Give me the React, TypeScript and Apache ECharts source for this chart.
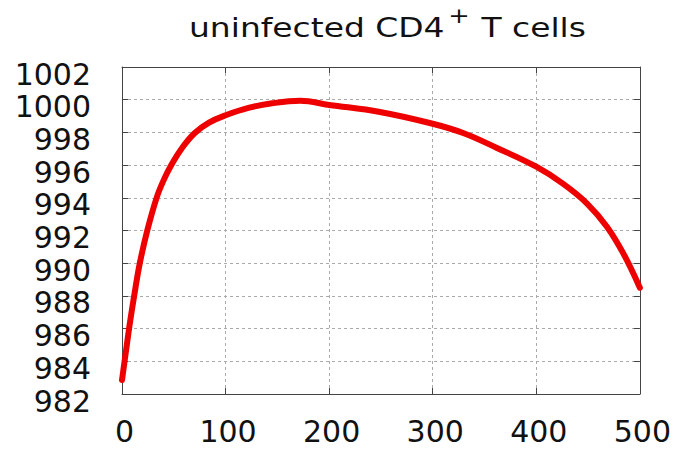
import React, { useEffect, useRef } from "react";
import * as echarts from "echarts";

const timePoints = [0, 4, 8, 12, 17.2, 24.4, 33.4, 40, 48, 58, 70, 84, 100, 122, 145, 172, 200, 249, 300, 330, 362, 400, 426, 449, 468, 484, 500];
const cellValues = [982.85, 984.7, 986.5, 988.1, 990, 992, 994, 995.05, 996.05, 997.05, 997.95, 998.6, 999.05, 999.5, 999.78, 999.93, 999.68, 999.25, 998.53, 997.95, 997.05, 995.9, 994.85, 993.65, 992.25, 990.6, 988.5];
const xTicks = [0, 100, 200, 300, 400, 500];
const yTicks = [982, 984, 986, 988, 990, 992, 994, 996, 998, 1000, 1002];
const titleMain = "uninfected CD4";
const titleSup = "+";
const titleRest = " T cells";

const FONT = "DejaVu Sans";

export default function App() {
  const ref = useRef<HTMLDivElement>(null);
  useEffect(() => {
    if (!ref.current) return;
    const chart = echarts.init(ref.current, undefined, { renderer: "svg" });
    const axisLine = { show: true, onZero: false, lineStyle: { color: "#444", width: 1 } };
    const tick = { show: true, inside: true, length: 6, lineStyle: { color: "#444", width: 1 } };
    const split = { show: true, lineStyle: { color: "#aaa", type: [3, 3] as any, width: 1 } };
    chart.setOption({
      animation: false,
      backgroundColor: "#fff",
      graphic: [
        {
          type: "text",
          x: 189,
          y: 5,
          scaleX: 1.22,
          style: {
            text: `{m|${titleMain}}{sup|${titleSup}}{m|${titleRest}}`,
            verticalAlign: "top",
            align: "left",
            rich: {
              m: { fontFamily: FONT, fontSize: 27, fill: "#111", lineHeight: 36, verticalAlign: "bottom" },
              sup: { fontFamily: FONT, fontSize: 21, fill: "#111", lineHeight: 36, verticalAlign: "top", padding: [0, 1, 0, 3] },
            },
          },
        },
      ],
      grid: { left: 122, right: 34, top: 67, bottom: 56 },
      xAxis: [
        {
          type: "value",
          min: xTicks[0],
          max: xTicks[xTicks.length - 1],
          interval: 100,
          position: "bottom",
          axisLine,
          axisTick: tick,
          splitLine: split,
          axisLabel: { fontFamily: FONT, fontSize: 30, color: "#111", margin: 22, padding: [0, 0, 0, 5], formatter: (v: number) => String(v) },
        },
        {
          type: "value",
          min: xTicks[0],
          max: xTicks[xTicks.length - 1],
          interval: 100,
          position: "top",
          axisLine,
          axisTick: tick,
          splitLine: { show: false },
          axisLabel: { show: false },
        },
      ],
      yAxis: [
        {
          type: "value",
          min: yTicks[0],
          max: yTicks[yTicks.length - 1],
          interval: 2,
          position: "left",
          axisLine,
          axisTick: tick,
          splitLine: split,
          axisLabel: {
            fontFamily: FONT,
            fontSize: 30,
            color: "#111",
            margin: 31,
            verticalAlign: "top",
            lineHeight: 14,
            formatter: (v: number) => String(v),
          },
        },
        {
          type: "value",
          min: yTicks[0],
          max: yTicks[yTicks.length - 1],
          interval: 2,
          position: "right",
          axisLine,
          axisTick: tick,
          splitLine: { show: false },
          axisLabel: { show: false },
        },
      ],
      series: [
        {
          type: "line",
          xAxisIndex: 0,
          yAxisIndex: 0,
          data: timePoints.map((t, i) => [t, cellValues[i]]),
          smooth: 0.4,
          symbol: "none",
          lineStyle: { color: "#ee0000", width: 6, cap: "round", join: "round" },
        },
      ],
    });
    return () => chart.dispose();
  }, []);
  return <div ref={ref} style={{ width: 674, height: 450, position: "absolute", left: 0, top: 0 }} />;
}
